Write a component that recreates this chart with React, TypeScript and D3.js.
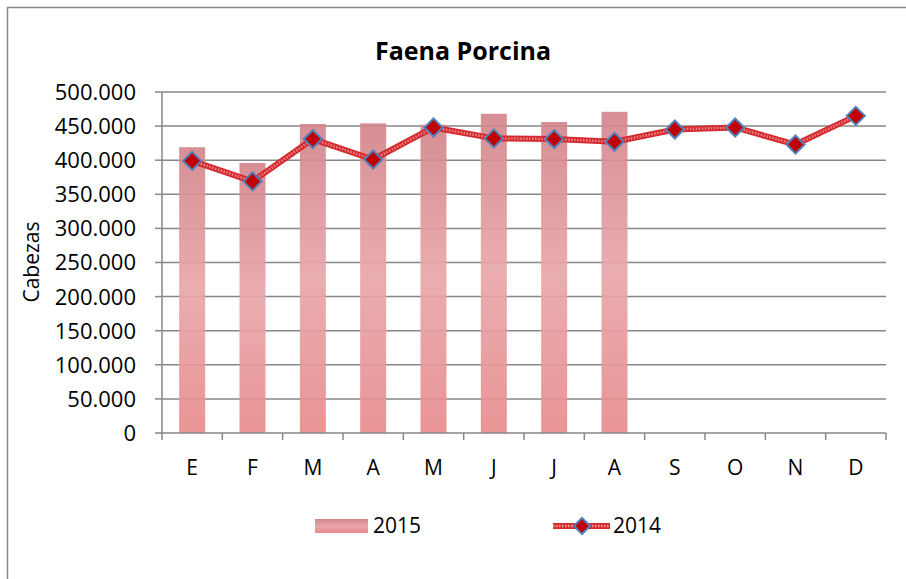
import React, { useRef, useEffect } from 'react'
import * as d3 from 'd3'

const months = ['E', 'F', 'M', 'A', 'M', 'J', 'J', 'A', 'S', 'O', 'N', 'D']
const serie2015 = [419000, 396000, 453000, 454000, 452000, 468000, 456000, 471000]
const serie2014 = [399000, 369000, 431000, 401000, 448000, 432000, 431000, 427000, 445000, 448000, 423000, 465000]
const yTicks = [0, 50000, 100000, 150000, 200000, 250000, 300000, 350000, 400000, 450000, 500000]

const FONT = '"Open Sans", "Noto Sans", sans-serif'

const App = () => {
	const svgRef = useRef(null)

	useEffect(() => {
		const root = d3.select(svgRef.current)
		root.selectAll('*').remove()

		const W = 906,
			H = 579
		const plot = { left: 162, right: 886, top: 92, bottom: 433 }

		root.attr('width', W).attr('height', H)

		const defs = root.append('defs')
		const grad = defs
			.append('linearGradient')
			.attr('id', 'barGrad')
			.attr('x1', 0)
			.attr('y1', 0)
			.attr('x2', 0)
			.attr('y2', 1)
		grad.append('stop').attr('offset', '0%').attr('stop-color', '#d2858c')
		grad.append('stop').attr('offset', '50%').attr('stop-color', '#e8a6a9')
		grad.append('stop').attr('offset', '100%').attr('stop-color', '#e88b8c')

		// chart border
		root.append('rect')
			.attr('x', 7.5)
			.attr('y', 7.5)
			.attr('width', W)
			.attr('height', H)
			.attr('fill', 'white')
			.attr('stroke', '#888')
			.attr('stroke-width', 1.5)

		const x = d3
			.scaleBand()
			.domain(months.map((m, i) => String(i)))
			.range([plot.left, plot.right])
		const y = d3.scaleLinear().domain([0, 500000]).range([plot.bottom, plot.top])
		const cx = (i) => x(String(i)) + x.bandwidth() / 2

		const fmt = (v) => (v === 0 ? '0' : d3.format(',')(v).replace(/,/g, '.'))

		// gridlines
		root.append('g')
			.selectAll('line')
			.data(yTicks.filter((d) => d > 0))
			.join('line')
			.attr('x1', plot.left)
			.attr('x2', plot.right)
			.attr('y1', (d) => y(d))
			.attr('y2', (d) => y(d))
			.attr('stroke', '#878787')
			.attr('stroke-width', 1.5)

		// bars
		root.append('g')
			.selectAll('rect')
			.data(serie2015)
			.join('rect')
			.attr('x', (d, i) => cx(i) - 13)
			.attr('width', 26)
			.attr('y', (d) => y(d))
			.attr('height', (d) => y(0) - y(d))
			.attr('fill', 'url(#barGrad)')
			.attr('opacity', 0.92)

		// axes
		const axisY = root.append('g').attr('transform', `translate(${plot.left},0)`)
		axisY.append('line')
			.attr('x1', 0)
			.attr('x2', 0)
			.attr('y1', plot.top)
			.attr('y2', plot.bottom)
			.attr('stroke', '#878787')
			.attr('stroke-width', 1.5)
		axisY.selectAll('line.tick')
			.data(yTicks)
			.join('line')
			.attr('class', 'tick')
			.attr('x1', -7)
			.attr('x2', 0)
			.attr('y1', (d) => y(d))
			.attr('y2', (d) => y(d))
			.attr('stroke', '#878787')
			.attr('stroke-width', 1.5)
		axisY.selectAll('text')
			.data(yTicks)
			.join('text')
			.attr('x', -26)
			.attr('y', (d) => y(d))
			.attr('dy', '0.36em')
			.attr('text-anchor', 'end')
			.style('font-family', FONT)
			.style('font-size', '22px')
			.attr('fill', '#000')
			.text(fmt)

		const axisX = root.append('g')
		axisX.append('line')
			.attr('x1', plot.left)
			.attr('x2', plot.right)
			.attr('y1', plot.bottom)
			.attr('y2', plot.bottom)
			.attr('stroke', '#878787')
			.attr('stroke-width', 1.5)
		axisX.selectAll('line.tick')
			.data(d3.range(months.length + 1))
			.join('line')
			.attr('class', 'tick')
			.attr('x1', (i) => plot.left + i * x.step())
			.attr('x2', (i) => plot.left + i * x.step())
			.attr('y1', plot.bottom)
			.attr('y2', plot.bottom + 7)
			.attr('stroke', '#878787')
			.attr('stroke-width', 1.5)
		axisX.selectAll('text')
			.data(months)
			.join('text')
			.attr('x', (d, i) => cx(i))
			.attr('y', 475)
			.attr('text-anchor', 'middle')
			.style('font-family', FONT)
			.style('font-size', '21px')
			.attr('fill', '#000')
			.text((d) => d)

		// line 2014
		const line = d3
			.line()
			.x((d, i) => cx(i))
			.y((d) => y(d))
		root.append('path')
			.attr('d', line(serie2014))
			.attr('fill', 'none')
			.attr('stroke', '#d42a2e')
			.attr('stroke-width', 6)
			.attr('stroke-linejoin', 'round')
		root.append('path')
			.attr('d', line(serie2014))
			.attr('fill', 'none')
			.attr('stroke', '#f29a9a')
			.attr('stroke-width', 2.5)
			.attr('stroke-dasharray', '1.5 1.5')
			.attr('opacity', 0.8)

		const diamond = (px, py, r) =>
			`M${px},${py - r}L${px + r},${py}L${px},${py + r}L${px - r},${py}Z`

		root.append('g')
			.selectAll('path')
			.data(serie2014)
			.join('path')
			.attr('d', (d, i) => diamond(cx(i), y(d), 9))
			.attr('fill', '#c00000')
			.attr('stroke', '#4f81bd')
			.attr('stroke-width', 2)

		// title
		root.append('text')
			.attr('x', 463)
			.attr('y', 60)
			.attr('text-anchor', 'middle')
			.style('font-family', FONT)
			.style('font-size', '25px')
			.style('font-weight', 'bold')
			.text('Faena Porcina')

		// y label
		root.append('text')
			.attr('transform', 'translate(39,262) rotate(-90)')
			.attr('text-anchor', 'middle')
			.style('font-family', FONT)
			.style('font-size', '21px')
			.text('Cabezas')

		// legend
		const leg = root.append('g')
		leg.append('rect')
			.attr('x', 315)
			.attr('y', 519)
			.attr('width', 53)
			.attr('height', 14)
			.attr('fill', 'url(#barGrad)')
		leg.append('text')
			.attr('x', 373)
			.attr('y', 533)
			.style('font-family', FONT)
			.style('font-size', '21px')
			.text('2015')
		leg.append('line')
			.attr('x1', 553)
			.attr('x2', 610)
			.attr('y1', 526)
			.attr('y2', 526)
			.attr('stroke', '#d42a2e')
			.attr('stroke-width', 6)
		leg.append('line')
			.attr('x1', 553)
			.attr('x2', 610)
			.attr('y1', 526)
			.attr('y2', 526)
			.attr('stroke', '#f29a9a')
			.attr('stroke-width', 2.5)
			.attr('stroke-dasharray', '1.5 1.5')
		leg.append('path')
			.attr('d', diamond(582, 526, 8))
			.attr('fill', '#c00000')
			.attr('stroke', '#4f81bd')
			.attr('stroke-width', 2)
		leg.append('text')
			.attr('x', 613)
			.attr('y', 533)
			.style('font-family', FONT)
			.style('font-size', '21px')
			.text('2014')
	}, [])

	return <svg ref={svgRef} style={{ display: 'block', position: 'absolute', left: 0, top: 0 }}></svg>
}

export default App
